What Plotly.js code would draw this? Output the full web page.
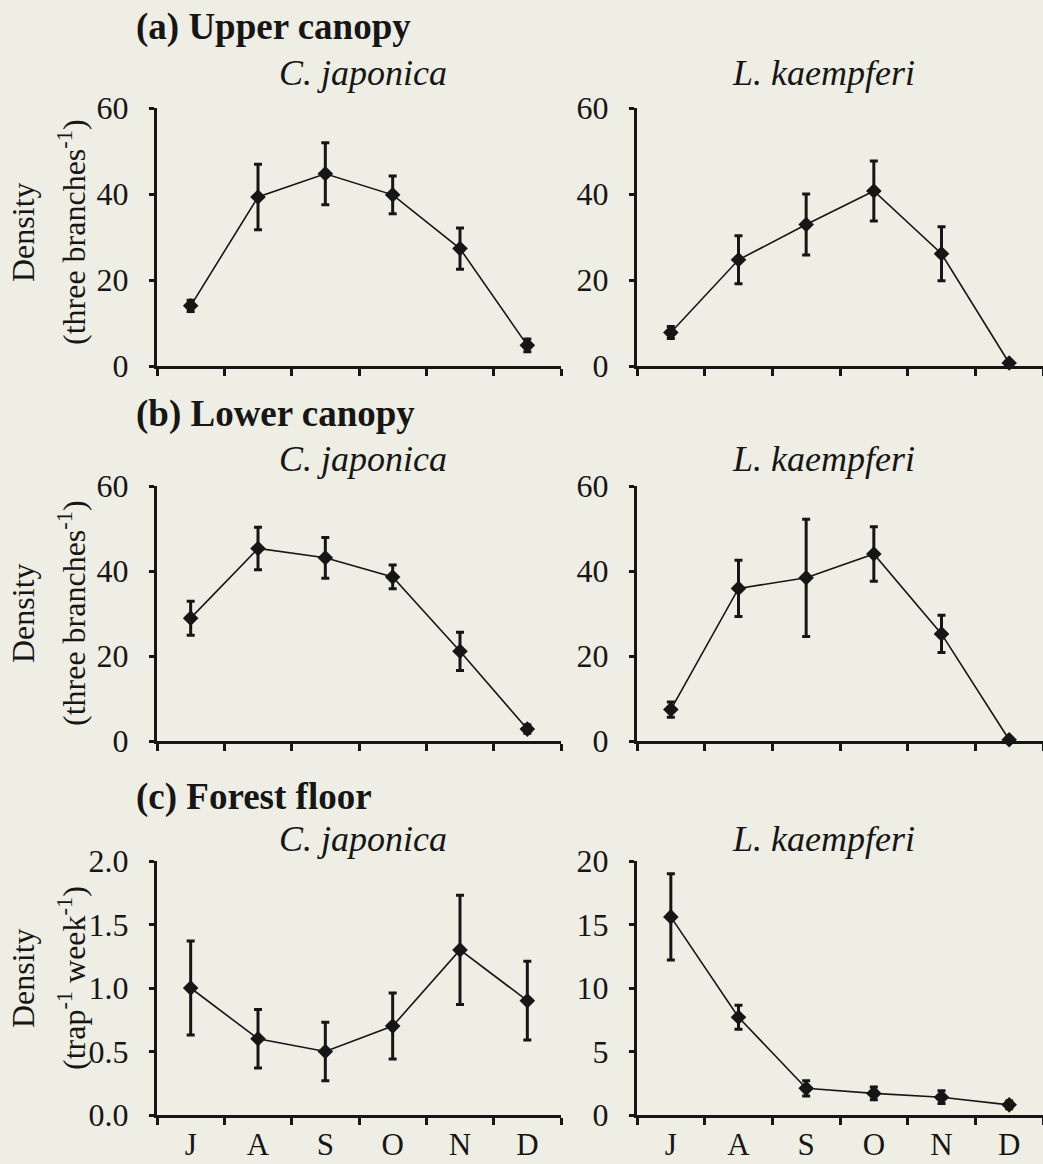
<!DOCTYPE html>
<html><head><meta charset="utf-8">
<script src="https://cdn.plot.ly/plotly-3.0.1.min.js"></script>
<style>html,body{margin:0;padding:0;background:#eeeee4;} #chart{width:1043px;height:1164px;}</style>
</head><body><div id="chart"></div>
<script>
// ---- data ----
const months = ['J', 'A', 'S', 'O', 'N', 'D'];
const monthPos = [0.5, 1.5, 2.5, 3.5, 4.5, 5.5];

const upperCj = [14.0, 39.3, 44.7, 39.8, 27.3, 4.8];
const upperCjErr = [1.3, 7.6, 7.2, 4.4, 4.8, 1.5];
const upperLk = [7.8, 24.7, 32.9, 40.7, 26.1, 0.7];
const upperLkErr = [1.4, 5.6, 7.1, 7.0, 6.3, 0.4];

const lowerCj = [28.9, 45.3, 43.1, 38.6, 21.1, 2.8];
const lowerCjErr = [4.0, 5.0, 4.8, 2.8, 4.5, 1.0];
const lowerLk = [7.4, 35.9, 38.4, 44.0, 25.2, 0.3];
const lowerLkErr = [1.8, 6.6, 13.8, 6.4, 4.4, 0.3];

const floorCj = [1.0, 0.6, 0.5, 0.7, 1.3, 0.9];
const floorCjErr = [0.37, 0.23, 0.23, 0.26, 0.43, 0.31];
const floorLk = [15.6, 7.7, 2.1, 1.7, 1.4, 0.8];
const floorLkErr = [3.4, 0.95, 0.6, 0.5, 0.5, 0.3];

const rowTitles = ['(a) Upper canopy', '(b) Lower canopy', '(c) Forest floor'];
const speciesNames = ['C. japonica', 'L. kaempferi'];
const yTitle1 = 'Density';
const yTitle2 = ['(three branches<sup>-1</sup>)', '(three branches<sup>-1</sup>)', '(trap<sup>-1</sup> week<sup>-1</sup>)'];

// ---- layout helpers ----
const W = 1043, H = 1164;
const px = x => x / W;
const py = y => 1 - y / H;
const ink = '#161616';
const FONT = 'Liberation Serif, Times New Roman, serif';

const colDom = [[px(157), px(561)], [px(637), 1]];
const rowDom = [[py(366), py(108)], [py(741), py(486)], [py(1115), py(861)]];
const rowTitleY = [27, 414, 797];
const speciesY = [73, 459, 839];
const yTitleY = [232, 613, 978];
const speciesX = [363, 823];

const panels = [
  {y: upperCj, e: upperCjErr, range: [0, 60], dtick: 20, fmt: ''},
  {y: upperLk, e: upperLkErr, range: [0, 60], dtick: 20, fmt: ''},
  {y: lowerCj, e: lowerCjErr, range: [0, 60], dtick: 20, fmt: ''},
  {y: lowerLk, e: lowerLkErr, range: [0, 60], dtick: 20, fmt: ''},
  {y: floorCj, e: floorCjErr, range: [0, 2], dtick: 0.5, fmt: '.1f'},
  {y: floorLk, e: floorLkErr, range: [0, 20], dtick: 5, fmt: ''}
];

const data = [];
const layout = {
  width: W, height: H,
  margin: {l: 0, r: 0, t: 0, b: 0},
  paper_bgcolor: '#eeeee4', plot_bgcolor: 'rgba(0,0,0,0)',
  showlegend: false,
  font: {family: FONT, color: ink, size: 32},
  annotations: []
};

panels.forEach((p, i) => {
  const row = Math.floor(i / 2), col = i % 2;
  const n = i === 0 ? '' : String(i + 1);
  data.push({
    type: 'scatter', mode: 'lines+markers',
    x: monthPos, y: p.y,
    xaxis: 'x' + n, yaxis: 'y' + n,
    line: {color: ink, width: 1.6},
    marker: {symbol: 'diamond', size: 12, color: ink},
    error_y: {type: 'data', array: p.e, visible: true, color: ink, thickness: 3, width: 4},
    cliponaxis: false
  });
  const isBottom = row === 2;
  layout['xaxis' + n] = {
    domain: colDom[col], anchor: 'y' + n, range: [0, 6],
    showgrid: false, zeroline: false,
    showline: true, linecolor: ink, linewidth: 3,
    tickmode: 'array', tickvals: monthPos, ticktext: months,
    showticklabels: isBottom,
    ticks: '',
    tickfont: {family: FONT, size: 31, color: ink},
    minor: {tickmode: 'linear', tick0: 0, dtick: 1, ticks: 'outside', ticklen: 7, tickwidth: 3, tickcolor: ink},
    fixedrange: true
  };
  layout['yaxis' + n] = {
    domain: rowDom[row], anchor: 'x' + n, range: p.range,
    showgrid: false, zeroline: false,
    showline: true, linecolor: ink, linewidth: 3,
    tickmode: 'linear', tick0: 0, dtick: p.dtick, tickformat: p.fmt,
    ticks: 'outside', ticklen: 5, tickwidth: 3, tickcolor: ink,
    ticklabelstandoff: 14,
    tickfont: {family: FONT, size: 32, color: ink},
    fixedrange: true
  };
});

rowTitles.forEach((t, r) => {
  layout.annotations.push({
    text: '<b>' + t + '</b>', xref: 'paper', yref: 'paper',
    x: px(134), y: py(rowTitleY[r]), xanchor: 'left', yanchor: 'middle',
    showarrow: false, font: {family: FONT, size: 37, color: ink}
  });
  speciesNames.forEach((s, c) => {
    layout.annotations.push({
      text: '<i>' + s + '</i>', xref: 'paper', yref: 'paper',
      x: px(speciesX[c]), y: py(speciesY[r]), xanchor: 'center', yanchor: 'middle',
      showarrow: false, font: {family: FONT, size: 36, color: ink}
    });
  });
  layout.annotations.push({
    text: yTitle1, xref: 'paper', yref: 'paper', textangle: -90,
    x: px(23), y: py(yTitleY[r]), xanchor: 'center', yanchor: 'middle',
    showarrow: false, font: {family: FONT, size: 32, color: ink}
  });
  layout.annotations.push({
    text: yTitle2[r], xref: 'paper', yref: 'paper', textangle: -90,
    x: px(72), y: py(yTitleY[r]), xanchor: 'center', yanchor: 'middle',
    showarrow: false, font: {family: FONT, size: 32, color: ink}
  });
});

Plotly.newPlot('chart', data, layout, {displayModeBar: false, staticPlot: true});
</script></body></html>
